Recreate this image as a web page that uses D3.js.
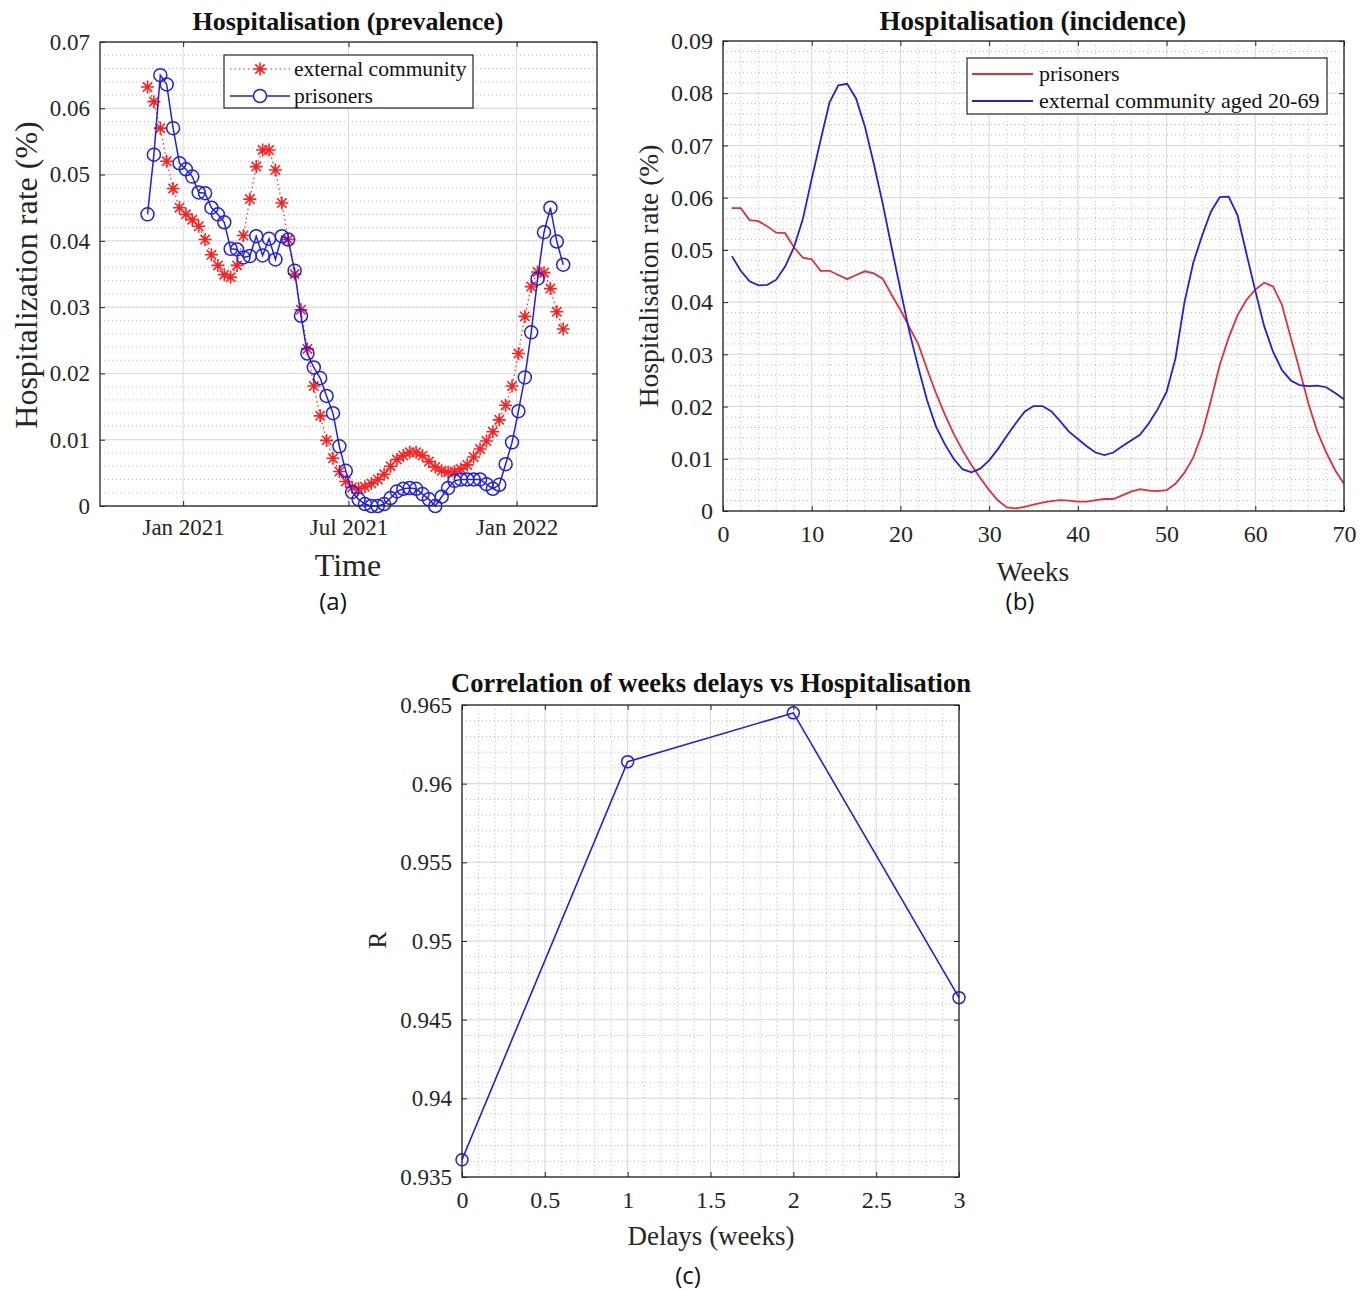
<!DOCTYPE html>
<html><head><meta charset="utf-8">
<script src="https://cdn.jsdelivr.net/npm/d3@7/dist/d3.min.js"></script>
<style>body{margin:0;background:#fff}svg{display:block}</style>
</head><body>
<svg id="c" width="1371" height="1290"></svg>
<script>
// ---------------- DATA ----------------
// (a) Hospitalisation prevalence, weekly points starting at prevStart
const prevStart = "2020-11-23";
const prevCommunity = [0.0632,0.061,0.057,0.052,0.0479,0.045,0.044,0.0432,0.0422,0.0402,
  0.0379,0.0363,0.0349,0.0345,0.0363,0.0408,0.0463,0.0512,0.0537,0.0537,
  0.0507,0.0457,0.0402,0.035,0.0296,0.0237,0.0181,0.0136,0.0099,0.0072,
  0.0052,0.0037,0.0028,0.0026,0.0029,0.0034,0.004,0.0048,0.006,0.007,
  0.0076,0.0081,0.0081,0.0076,0.0067,0.0059,0.0053,0.0051,0.0052,0.0056,
  0.0062,0.0074,0.0086,0.0098,0.0112,0.013,0.0152,0.0181,0.023,0.0286,
  0.0331,0.0353,0.0352,0.0328,0.0293,0.0267];
const prevPrisoners = [0.044,0.053,0.065,0.0636,0.057,0.0517,0.0508,0.0497,0.0473,0.0472,
  0.045,0.044,0.0428,0.0388,0.0387,0.0375,0.0377,0.0407,0.0378,0.0403,
  0.0372,0.0407,0.0402,0.0355,0.0287,0.023,0.0209,0.0193,0.0166,0.014,
  0.009,0.0053,0.0021,0.001,0.0003,0,0,0.0003,0.0012,0.0022,
  0.0026,0.0027,0.0026,0.0018,0.001,0,0.0014,0.0027,0.0038,0.004,
  0.004,0.004,0.004,0.0033,0.0026,0.0032,0.0063,0.0096,0.0143,0.0194,
  0.0262,0.0343,0.0413,0.045,0.0399,0.0364];
const prevTickDates = ["2021-01-01","2021-07-01","2022-01-01"];
const prevTickLabels = ["Jan 2021","Jul 2021","Jan 2022"];
const prevTicksY = [0,0.01,0.02,0.03,0.04,0.05,0.06,0.07];

// (b) Hospitalisation incidence, weeks 1..70
const incWeeks = [1,2,3,4,5,6,7,8,9,10,11,12,13,14,15,16,17,18,19,20,21,22,23,24,25,26,27,28,29,30,
  31,32,33,34,35,36,37,38,39,40,41,42,43,44,45,46,47,48,49,50,51,52,53,54,55,56,57,58,59,60,
  61,62,63,64,65,66,67,68,69,70];
const incPrisoners = [0.058,0.058,0.0557,0.0555,0.0545,0.0533,0.0532,0.0505,0.0485,0.0482,
  0.046,0.046,0.0452,0.0444,0.0452,0.0459,0.0455,0.0445,0.0414,0.0385,
  0.0352,0.032,0.0272,0.0226,0.0185,0.0148,0.0116,0.0088,0.0063,0.004,
  0.002,0.0007,0.0005,0.0008,0.0012,0.0016,0.0019,0.0021,0.002,0.0018,
  0.0018,0.0021,0.0023,0.0023,0.003,0.0037,0.0042,0.0039,0.0038,0.004,
  0.0052,0.0073,0.0102,0.0148,0.0212,0.028,0.0332,0.0375,0.0404,0.0424,
  0.0437,0.043,0.0395,0.0332,0.027,0.0205,0.0152,0.0112,0.0078,0.0052];
const incCommunity = [0.0488,0.046,0.044,0.0432,0.0433,0.0443,0.0468,0.0505,0.0559,0.0636,
  0.071,0.0782,0.0815,0.0818,0.079,0.0736,0.0665,0.0589,0.0505,0.0424,
  0.0344,0.0276,0.0212,0.0162,0.0128,0.01,0.008,0.0074,0.0081,0.0097,
  0.0119,0.0144,0.0168,0.019,0.0201,0.0201,0.0191,0.0172,0.0152,0.0138,
  0.0124,0.0112,0.0107,0.0112,0.0124,0.0135,0.0146,0.0168,0.0195,0.0228,
  0.0292,0.0398,0.0475,0.0527,0.0573,0.0601,0.0602,0.0566,0.0493,0.0422,
  0.0354,0.0305,0.027,0.025,0.0241,0.0239,0.024,0.0237,0.0226,0.0214];
const incTicksX = [0,10,20,30,40,50,60,70];
const incTicksY = [0,0.01,0.02,0.03,0.04,0.05,0.06,0.07,0.08,0.09];

// (c) Correlation vs delay
const delays = [0,1,2,3];
const corrR = [0.9361,0.9614,0.9645,0.9464];
const corrTicksX = [0,0.5,1,1.5,2,2.5,3];
const corrTicksY = [0.935,0.94,0.945,0.95,0.955,0.96,0.965];

// ---------------- DRAWING ----------------
const svg = d3.select("#c");
const serif = "'Liberation Serif','Times New Roman',serif";
const sans = "'Open Sans','Liberation Sans',sans-serif";
const INK = "#262626";
const RED = "#ff1f1f", RED2 = "#e0303a", BLUE = "#2020dd";

function gridLines(g, scale, vals, horizontal, L, R, T, B, minor) {
  g.append("g").selectAll("line").data(vals).join("line")
    .attr("x1", d => horizontal ? L : scale(d))
    .attr("x2", d => horizontal ? R : scale(d))
    .attr("y1", d => horizontal ? scale(d) : T)
    .attr("y2", d => horizontal ? scale(d) : B)
    .attr("stroke", minor ? "#a8a8a8" : "#dadada")
    .attr("stroke-width", minor ? 0.8 : 1)
    .attr("stroke-dasharray", minor ? "1,3" : null);
}

function styleAxis(s, size) {
  s.select(".domain").remove();
  s.selectAll("line").attr("stroke", INK);
  s.selectAll("text").attr("font-family", serif).attr("font-size", size).attr("fill", INK);
}

function panel(cfg) {
  const g = svg.append("g");
  const x = cfg.x, y = cfg.y;
  const [L, R] = x.range(), [B, T] = y.range();
  if (cfg.minorY) gridLines(g, y, cfg.minorY, true, L, R, T, B, true);
  if (cfg.minorX) gridLines(g, x, cfg.minorX, false, L, R, T, B, true);
  gridLines(g, y, cfg.yTicks, true, L, R, T, B, false);
  gridLines(g, x, cfg.xTicks, false, L, R, T, B, false);
  cfg.draw(g);
  g.append("rect").attr("x", L).attr("y", T).attr("width", R - L).attr("height", B - T)
    .attr("fill", "none").attr("stroke", INK).attr("stroke-width", 1.3);
  const tl = 5;
  g.append("g").attr("transform", `translate(${L},0)`)
    .call(d3.axisLeft(y).tickValues(cfg.yTicks).tickSizeInner(-tl).tickSizeOuter(0).tickPadding(cfg.yPad).tickFormat(d => String(d)))
    .call(s => styleAxis(s, cfg.yFont));
  g.append("g").attr("transform", `translate(${R},0)`)
    .call(d3.axisRight(y).tickValues(cfg.yTicks).tickSizeInner(-tl).tickSizeOuter(0).tickFormat(""))
    .call(s => styleAxis(s, 1));
  g.append("g").attr("transform", `translate(0,${B})`)
    .call(d3.axisBottom(x).tickValues(cfg.xTicks).tickSizeInner(-tl).tickSizeOuter(0).tickPadding(cfg.xPad).tickFormat(cfg.xFmt))
    .call(s => styleAxis(s, cfg.xFont));
  g.append("g").attr("transform", `translate(0,${T})`)
    .call(d3.axisTop(x).tickValues(cfg.xTicks).tickSizeInner(-tl).tickSizeOuter(0).tickFormat(""))
    .call(s => styleAxis(s, 1));
  // texts
  g.append("text").attr("x", cfg.title[1]).attr("y", cfg.title[2]).attr("text-anchor", "middle")
    .attr("font-family", serif).attr("font-weight", "bold").attr("font-size", cfg.title[3]).attr("fill", "#111").text(cfg.title[0]);
  g.append("text").attr("x", cfg.xlab[1]).attr("y", cfg.xlab[2]).attr("text-anchor", "middle")
    .attr("font-family", serif).attr("font-size", cfg.xlab[3]).attr("fill", INK).text(cfg.xlab[0]);
  g.append("text").attr("transform", `translate(${cfg.ylab[1]},${cfg.ylab[2]}) rotate(-90)`).attr("text-anchor", "middle")
    .attr("font-family", serif).attr("font-size", cfg.ylab[3]).attr("fill", INK).text(cfg.ylab[0]);
  g.append("text").attr("x", cfg.tag[1]).attr("y", cfg.tag[2]).attr("text-anchor", "middle")
    .attr("font-family", sans).attr("font-size", 24).attr("fill", "#111").text(cfg.tag[0]);
  return g;
}

function star(sel, r, color) {
  const d = r * 0.72;
  sel.append("path")
    .attr("d", `M${-r},0L${r},0M0,${-r}L0,${r}M${-d},${-d}L${d},${d}M${-d},${d}L${d},${-d}`)
    .attr("stroke", color).attr("stroke-width", 1.6).attr("fill", "none");
}

// ---- Panel (a)
const parse = d3.timeParse("%Y-%m-%d");
const t0 = parse(prevStart);
const prevDates = prevCommunity.map((_, i) => d3.timeDay.offset(t0, 7 * i));
const xa = d3.scaleTime().domain([parse("2020-10-02"), parse("2022-03-30")]).range([100, 597]);
const ya = d3.scaleLinear().domain([0, 0.07]).range([506, 42]);
const minorA = d3.range(0, 0.0701, 0.002);
panel({
  x: xa, y: ya, xTicks: prevTickDates.map(parse), yTicks: prevTicksY, minorY: minorA,
  xFmt: d => prevTickLabels[prevTickDates.map(parse).findIndex(t => +t === +d)],
  yPad: 10, xPad: 13, yFont: 23, xFont: 23,
  title: ["Hospitalisation (prevalence)", 348, 30, 26],
  xlab: ["Time", 348, 576, 32],
  ylab: ["Hospitalization rate (%)", 37, 275, 32],
  tag: ["(a)", 333, 610],
  draw: g => {
    const lineC = d3.line().x((d, i) => xa(prevDates[i])).y(d => ya(d));
    g.append("path").attr("d", lineC(prevCommunity)).attr("fill", "none").attr("stroke", RED)
      .attr("stroke-width", 1.2).attr("stroke-dasharray", "1.5,3");
    prevCommunity.forEach((v, i) => {
      const s = g.append("g").attr("transform", `translate(${xa(prevDates[i])},${ya(v)})`);
      star(s, 6.5, RED);
    });
    g.append("path").attr("d", lineC(prevPrisoners)).attr("fill", "none").attr("stroke", BLUE).attr("stroke-width", 1.5);
    g.append("g").selectAll("circle").data(prevPrisoners).join("circle")
      .attr("cx", (d, i) => xa(prevDates[i])).attr("cy", d => ya(d)).attr("r", 6.5)
      .attr("fill", "none").attr("stroke", BLUE).attr("stroke-width", 1.5);
    // legend
    const lg = g.append("g");
    lg.append("rect").attr("x", 224).attr("y", 55).attr("width", 249).attr("height", 53)
      .attr("fill", "#fff").attr("stroke", INK).attr("stroke-width", 1.2);
    lg.append("line").attr("x1", 230).attr("x2", 290).attr("y1", 69).attr("y2", 69)
      .attr("stroke", RED).attr("stroke-width", 1.2).attr("stroke-dasharray", "1.5,3");
    star(lg.append("g").attr("transform", "translate(260,69)"), 6.5, RED);
    lg.append("line").attr("x1", 230).attr("x2", 290).attr("y1", 96).attr("y2", 96)
      .attr("stroke", BLUE).attr("stroke-width", 1.5);
    lg.append("circle").attr("cx", 260).attr("cy", 96).attr("r", 6.5).attr("fill", "#fff").attr("stroke", BLUE).attr("stroke-width", 1.5);
    lg.append("text").attr("x", 294).attr("y", 76).attr("font-family", serif).attr("font-size", 21.5).attr("fill", "#111").text("external community");
    lg.append("text").attr("x", 294).attr("y", 103).attr("font-family", serif).attr("font-size", 21.5).attr("fill", "#111").text("prisoners");
  }
});

// ---- Panel (b)
const xb = d3.scaleLinear().domain([0, 70]).range([723, 1344]);
const yb = d3.scaleLinear().domain([0, 0.09]).range([511, 41]);
panel({
  x: xb, y: yb, xTicks: incTicksX, yTicks: incTicksY,
  minorY: d3.range(0, 0.0901, 0.002), minorX: d3.range(0, 70.1, 2),
  xFmt: d => String(d), yPad: 10, xPad: 14, yFont: 24, xFont: 24,
  title: ["Hospitalisation (incidence)", 1033, 30, 27],
  xlab: ["Weeks", 1033, 581, 27.5],
  ylab: ["Hospitalisation rate (%)", 658, 276, 27.5],
  tag: ["(b)", 1020, 610],
  draw: g => {
    const ln = d3.line().x((d, i) => xb(incWeeks[i])).y(d => yb(d));
    g.append("path").attr("d", ln(incPrisoners)).attr("fill", "none").attr("stroke", RED2).attr("stroke-width", 1.8);
    g.append("path").attr("d", ln(incCommunity)).attr("fill", "none").attr("stroke", BLUE).attr("stroke-width", 1.8);
    const lg = g.append("g");
    lg.append("rect").attr("x", 967).attr("y", 58).attr("width", 360).attr("height", 56)
      .attr("fill", "#fff").attr("stroke", INK).attr("stroke-width", 1.2);
    lg.append("line").attr("x1", 972).attr("x2", 1033).attr("y1", 74).attr("y2", 74).attr("stroke", RED2).attr("stroke-width", 1.8);
    lg.append("line").attr("x1", 972).attr("x2", 1033).attr("y1", 101).attr("y2", 101).attr("stroke", BLUE).attr("stroke-width", 1.8);
    lg.append("text").attr("x", 1039).attr("y", 81).attr("font-family", serif).attr("font-size", 22).attr("fill", "#111").text("prisoners");
    lg.append("text").attr("x", 1039).attr("y", 108).attr("font-family", serif).attr("font-size", 22).attr("fill", "#111").text("external community aged 20-69");
  }
});

// ---- Panel (c)
const xc = d3.scaleLinear().domain([0, 3]).range([462, 959]);
const yc = d3.scaleLinear().domain([0.935, 0.965]).range([1177, 705]);
panel({
  x: xc, y: yc, xTicks: corrTicksX, yTicks: corrTicksY,
  minorY: d3.range(0, 31).map(i => 0.935 + i * 0.001), minorX: d3.range(0, 31).map(i => i * 0.1),
  xFmt: d => String(d), yPad: 10, xPad: 14, yFont: 23, xFont: 24,
  title: ["Correlation of weeks delays vs Hospitalisation", 711, 692, 26.5],
  xlab: ["Delays (weeks)", 711, 1245, 27],
  ylab: ["R", 386, 940, 26],
  tag: ["(c)", 688, 1284],
  draw: g => {
    const ln = d3.line().x((d, i) => xc(delays[i])).y(d => yc(d));
    g.append("path").attr("d", ln(corrR)).attr("fill", "none").attr("stroke", BLUE).attr("stroke-width", 1.6);
    g.append("g").selectAll("circle").data(corrR).join("circle")
      .attr("cx", (d, i) => xc(delays[i])).attr("cy", d => yc(d)).attr("r", 6)
      .attr("fill", "none").attr("stroke", BLUE).attr("stroke-width", 1.5);
  }
});
</script>
</body></html>
